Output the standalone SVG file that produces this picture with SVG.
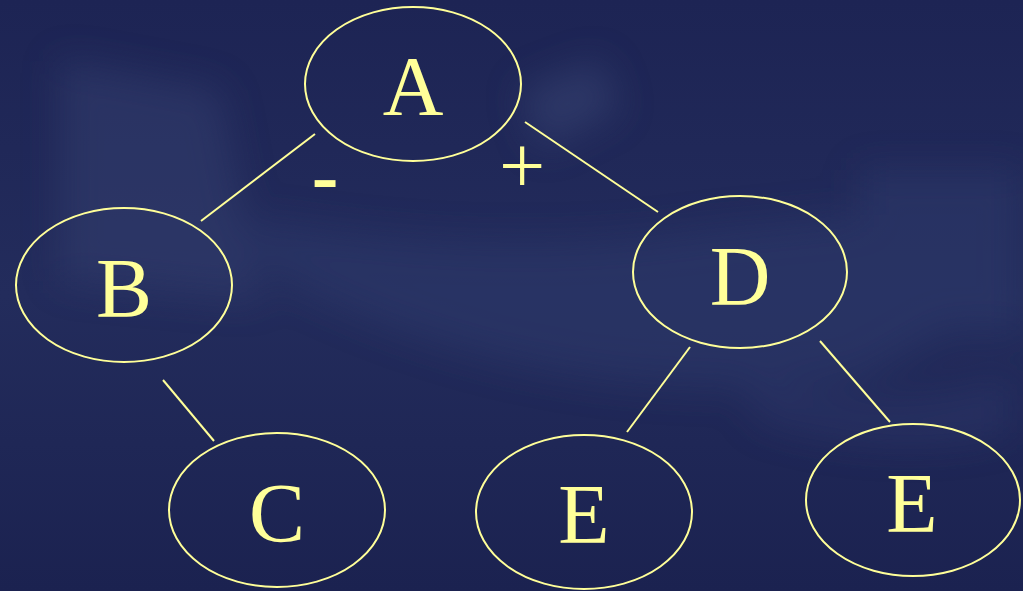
<svg xmlns="http://www.w3.org/2000/svg" width="1023" height="591" viewBox="0 0 1023 591">
<style>
.node ellipse{fill:none;stroke:#ffff99;stroke-width:2}
.node text{fill:#ffff99;font-family:"Liberation Serif","Times New Roman",serif;font-size:84px;text-anchor:middle}
#edges line{stroke:#ffff99;stroke-width:2}
.sign{fill:#ffff99;font-family:"Liberation Serif","Times New Roman",serif;text-anchor:middle}
</style>
<defs>
<linearGradient id="bg" x1="0" y1="0" x2="0" y2="1">
<stop offset="0" stop-color="#1d2454"/>
<stop offset="0.5" stop-color="#232c5c"/>
<stop offset="1" stop-color="#1b2250"/>
</linearGradient>
<filter id="blur" x="-20%" y="-20%" width="140%" height="140%"><feGaussianBlur stdDeviation="18"/></filter>
</defs>
<rect width="1023" height="591" fill="url(#bg)"/>
<g filter="url(#blur)" opacity="0.5">
<path d="M60 60 L220 90 L260 300 L60 280 Z" fill="#344070"/>
<path d="M230 250 Q520 420 860 380 L1000 300 L1000 200 L700 230 Q500 260 260 220 Z" fill="#2f3a6c"/>
<path d="M520 90 L600 60 L620 110 L540 150 Z" fill="#3a4676"/>
<rect x="860" y="170" width="160" height="160" fill="#2f3a6c"/>
<path d="M740 380 Q900 420 1010 380 L1010 430 Q900 460 760 420 Z" fill="#2d386a"/>
</g>
<g id="edges">
<line x1="315" y1="134" x2="201" y2="221"/>
<line x1="525" y1="122" x2="658" y2="212"/>
<line x1="163" y1="380" x2="214" y2="441"/>
<line x1="690" y1="347" x2="627" y2="432"/>
<line x1="820" y1="341" x2="890" y2="422"/>
<text class="sign" x="325" y="203" font-size="80" font-weight="bold">-</text>
<text class="sign" x="522" y="193" font-size="82">+</text>
</g>
<g id="A" class="node"><ellipse cx="413" cy="84" rx="108" ry="77"/><text x="413" y="115">A</text></g>
<g id="B" class="node"><ellipse cx="124" cy="285" rx="108" ry="77"/><text x="124" y="317">B</text></g>
<g id="C" class="node"><ellipse cx="277" cy="510" rx="108" ry="77"/><text x="277" y="542">C</text></g>
<g id="D" class="node"><ellipse cx="740" cy="272" rx="107" ry="76"/><text x="740" y="305">D</text></g>
<g id="E1" class="node"><ellipse cx="584" cy="512" rx="108" ry="77"/><text x="584" y="543">E</text></g>
<g id="E2" class="node"><ellipse cx="913" cy="500" rx="107" ry="76"/><text x="912" y="532">E</text></g>
</svg>
